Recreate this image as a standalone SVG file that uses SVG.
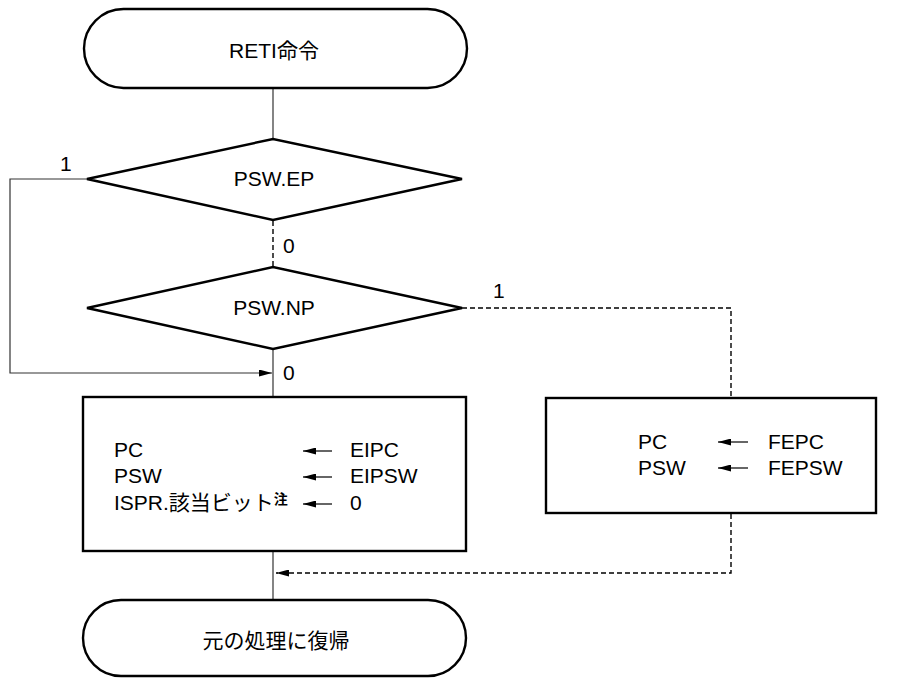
<svg xmlns="http://www.w3.org/2000/svg" width="909" height="678" viewBox="0 0 909 678">
<style>
.shape{fill:#fff;stroke:#000;stroke-width:2.4}
.t{font-family:"Liberation Sans","Noto Sans CJK JP",sans-serif;font-size:21px;fill:#000}
.c{text-anchor:middle}
.ln{fill:none;stroke:#333;stroke-width:1.2}
.dash{fill:none;stroke:#000;stroke-width:1.4;stroke-dasharray:5 3}
.ar{fill:none;stroke:#000;stroke-width:1.2}
</style>
<defs>
<marker id="ah" viewBox="0 0 13 7" refX="13" refY="3.5" markerWidth="13" markerHeight="7" markerUnits="userSpaceOnUse" orient="auto">
<path d="M0,0 L13,3.5 L0,7 z" fill="#000"/>
</marker>
</defs>
<g id="connectors">
<line class="ln" x1="273" y1="88" x2="273" y2="139"/>
<line class="dash" x1="273" y1="221" x2="273" y2="267"/>
<line class="ln" x1="273" y1="349" x2="273" y2="397"/>
<polyline class="ln" points="87,179 10,179 10,373 272,373" marker-end="url(#ah)"/>
<polyline class="dash" points="462,308 731,308 731,398"/>
<polyline class="dash" points="731,514 731,573 276,573" marker-end="url(#ah)"/>
<line class="ln" x1="273" y1="551" x2="273" y2="600"/>
<text class="t" x="60" y="171">1</text>
<text class="t" x="283" y="253">0</text>
<text class="t" x="493" y="298">1</text>
<text class="t" x="283" y="380">0</text>
</g>
<g id="start">
<rect class="shape" x="84" y="9" width="383" height="79" rx="39.5"/>
<text class="t c" x="274" y="58">RETI命令</text>
</g>
<g id="ep">
<polygon class="shape" points="87,179 273,139 462,179 273,220"/>
<text class="t c" x="274" y="186">PSW.EP</text>
</g>
<g id="np">
<polygon class="shape" points="87,308 273,267 462,308 273,349"/>
<text class="t c" x="274" y="315">PSW.NP</text>
</g>
<g id="eibox">
<rect class="shape" x="83" y="397" width="383" height="154"/>
<text class="t" x="114" y="457">PC</text>
<text class="t" x="114" y="483">PSW</text>
<text class="t" x="114" y="510">ISPR.該当ビット<tspan font-size="14" font-weight="bold" dy="-6">注</tspan></text>
<line class="ar" x1="332" y1="451" x2="303" y2="451" marker-end="url(#ah)"/>
<line class="ar" x1="332" y1="477" x2="303" y2="477" marker-end="url(#ah)"/>
<line class="ar" x1="332" y1="504" x2="303" y2="504" marker-end="url(#ah)"/>
<text class="t" x="350" y="457">EIPC</text>
<text class="t" x="350" y="483">EIPSW</text>
<text class="t" x="350" y="510">0</text>
</g>
<g id="febox">
<rect class="shape" x="546" y="398" width="330" height="115"/>
<text class="t" x="638" y="449">PC</text>
<text class="t" x="638" y="475">PSW</text>
<line class="ar" x1="748" y1="442" x2="718" y2="442" marker-end="url(#ah)"/>
<line class="ar" x1="748" y1="468" x2="718" y2="468" marker-end="url(#ah)"/>
<text class="t" x="768" y="449">FEPC</text>
<text class="t" x="768" y="475">FEPSW</text>
</g>
<g id="end">
<rect class="shape" x="83" y="600" width="383" height="76" rx="38"/>
<text class="t c" x="276" y="648">元の処理に復帰</text>
</g>
</svg>
